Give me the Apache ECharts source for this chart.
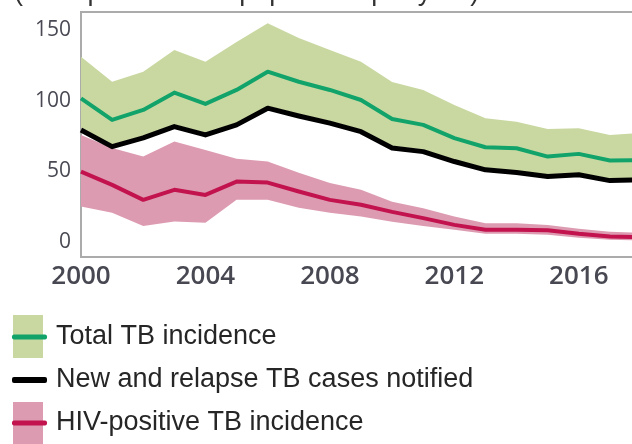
<!DOCTYPE html>
<html>
<head>
<meta charset="UTF-8">
<title>TB incidence</title>
<script src="https://cdn.jsdelivr.net/npm/echarts@6/dist/echarts.min.js"></script>
<style>
  html, body { margin: 0; padding: 0; background: #fff; }
  #main { width: 632px; height: 444px; }
</style>
</head>
<body>
<div id="main"></div>
<script type="text/javascript">
// years and values
var years = ['2000', '2001', '2002', '2003', '2004', '2005', '2006', '2007', '2008', '2009',
             '2010', '2011', '2012', '2013', '2014', '2015', '2016', '2017', '2018'];
var totalTB     = [101.6, 86.3, 93.4, 105.6, 97.6, 107.5, 120.4, 113.3, 107.5, 100.4,
                   87.0, 82.8, 73.4, 67.0, 66.3, 60.4, 62.3, 57.6, 58.0];
var totalTBHigh = [131.0, 113.3, 120.4, 135.7, 127.5, 141.4, 154.6, 144.2, 135.7, 127.5,
                   113.1, 107.5, 96.9, 87.5, 85.1, 79.9, 80.4, 75.7, 77.1];
var totalTBLow  = [80.7, 68.9, 75.1, 83.1, 77.2, 84.3, 96.1, 90.6, 85.5, 79.5,
                   68.0, 65.4, 58.4, 52.5, 50.6, 47.8, 49.0, 44.9, 45.4];
var notified    = [79.2, 67.4, 73.6, 81.6, 75.7, 82.8, 94.6, 89.1, 84.0, 78.0,
                   66.5, 63.9, 56.9, 51.0, 49.1, 46.3, 47.5, 43.4, 43.9];
var hivTB       = [49.8, 40.4, 29.8, 36.9, 33.3, 42.7, 42.0, 35.7, 29.8, 26.3,
                   21.3, 16.9, 12.1, 8.6, 8.6, 8.3, 5.8, 3.9, 3.5];
var hivTBHigh   = [75.7, 66.5, 60.4, 71.0, 65.1, 58.8, 56.9, 48.9, 41.8, 36.9,
                   28.4, 23.9, 18.0, 13.3, 13.3, 12.1, 9.3, 7.2, 6.5];
var hivTBLow    = [25.1, 20.6, 11.4, 14.5, 13.6, 29.8, 29.8, 24.2, 20.6, 18.0,
                   14.3, 11.4, 8.6, 5.8, 5.8, 5.1, 3.0, 1.6, 1.2];
var yTicks = [0, 50, 100, 150];
var xTicks = ['2000', '2004', '2008', '2012', '2016'];
var legendNames = ['Total TB incidence', 'New and relapse TB cases notified', 'HIV-positive TB incidence'];

var greenBand = '#c9d8a1', greenLine = '#12a36b';
var pinkBand = '#dd9bb1', pinkLine = '#c2134f';

function diff(hi, lo) {
    return hi.map(function (v, i) { return +(v - lo[i]).toFixed(2); });
}

// band = invisible lower line + stacked difference with area fill
function band(stackId, lo, hi, color) {
    return [{
        type: 'line', stack: stackId, data: lo, symbol: 'none',
        lineStyle: { opacity: 0 }, silent: true, z: 1
    }, {
        type: 'line', stack: stackId, data: diff(hi, lo), symbol: 'none',
        lineStyle: { opacity: 0 }, areaStyle: { color: color, opacity: 1 }, silent: true, z: 1
    }];
}

function line(vals, color, width, z) {
    return {
        type: 'line', data: vals, symbol: 'none', z: z,
        lineStyle: { color: color, width: width, join: 'round' }
    };
}

var myChart = echarts.init(document.getElementById('main'));

var legendFont = '27px "Liberation Sans", Arial, sans-serif';
var rows = [337, 380, 423];

var option = {
    animation: false,
    grid: {
        left: 81, top: 12, right: -9, bottom: 187, outerBoundsMode: 'none',
        show: true, borderColor: '#ababab', borderWidth: 2, backgroundColor: 'transparent'
    },
    xAxis: {
        type: 'category', data: years, boundaryGap: false,
        axisLine: { show: false }, axisTick: { show: false }, splitLine: { show: false },
        axisLabel: {
            interval: function (i, v) { return xTicks.indexOf(v) >= 0; },
            hideOverlap: false, margin: 7, color: '#484852', fontSize: 26, fontWeight: 600,
            fontFamily: '"Open Sans", sans-serif'
        }
    },
    yAxis: {
        type: 'value', min: -10.6, max: 162.6,
        axisLine: { show: false }, axisTick: { show: false }, splitLine: { show: false },
        axisLabel: {
            customValues: yTicks, margin: 10, color: '#4a4a55', fontSize: 21, fontWeight: 500,
            fontFamily: '"Open Sans", sans-serif'
        }
    },
    series: [].concat(
        band('total', totalTBLow, totalTBHigh, greenBand),
        band('hiv', hivTBLow, hivTBHigh, pinkBand),
        [line(totalTB, greenLine, 4, 3),
         line(hivTB, pinkLine, 4, 3),
         line(notified, '#000000', 5, 4)]
    ),
    graphic: [
        // cut-off unit line at the very top
        { type: 'text', x: 14, y: 6, style: { text: '(Rate per 100 000 population per year)', font: legendFont, fill: '#333', verticalAlign: 'bottom' } },
        // legend
        { type: 'rect', shape: { x: 13, y: 315, width: 30, height: 43 }, style: { fill: greenBand } },
        { type: 'rect', shape: { x: 12, y: rows[0] - 2.5, width: 35, height: 5, r: 2 }, style: { fill: greenLine } },
        { type: 'rect', shape: { x: 12, y: rows[1] - 3, width: 35, height: 6, r: 2 }, style: { fill: '#000' } },
        { type: 'rect', shape: { x: 13, y: 402, width: 30, height: 44 }, style: { fill: pinkBand } },
        { type: 'rect', shape: { x: 12, y: rows[2] - 2.5, width: 35, height: 5, r: 2 }, style: { fill: pinkLine } },
        { type: 'text', x: 56, y: rows[0], style: { text: legendNames[0], font: legendFont, fill: '#262626', verticalAlign: 'middle' } },
        { type: 'text', x: 56, y: rows[1], style: { text: legendNames[1], font: legendFont, fill: '#262626', verticalAlign: 'middle' } },
        { type: 'text', x: 56, y: rows[2], style: { text: legendNames[2], font: legendFont, fill: '#262626', verticalAlign: 'middle' } }
    ]
};

myChart.setOption(option);
</script>
</body>
</html>
